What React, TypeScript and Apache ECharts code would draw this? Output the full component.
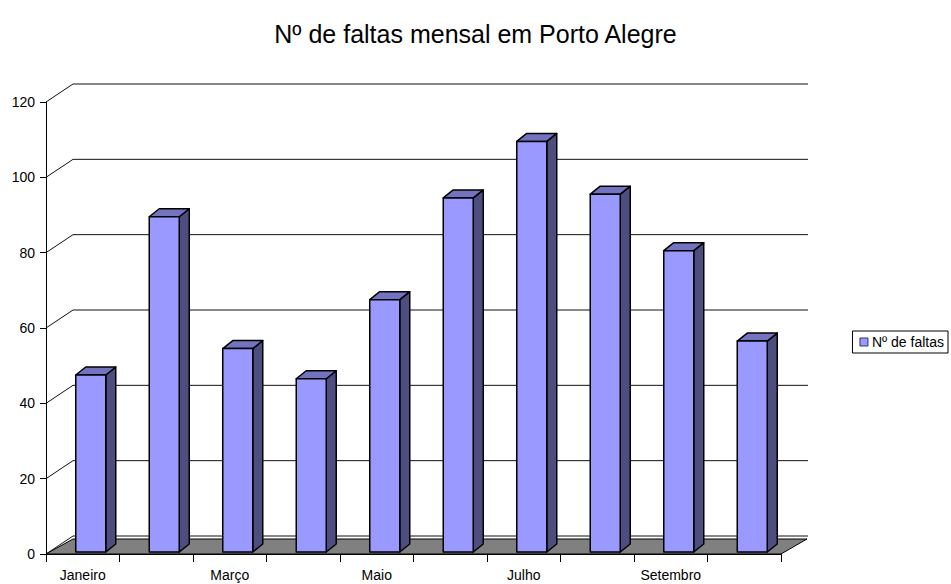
import React, { useEffect, useRef } from "react";
import * as echarts from "echarts";

const months = ["Janeiro", "Fevereiro", "Março", "Abril", "Maio", "Junho", "Julho", "Agosto", "Setembro", "Outubro"];
const faltas = [47, 89, 54, 46, 67, 94, 109, 95, 80, 56];
const yTicks = [0, 20, 40, 60, 80, 100, 120];
const seriesName = "Nº de faltas";
const titleText = "Nº de faltas mensal em Porto Alegre";

const FONT = "'Liberation Sans', Arial, sans-serif";
const WALL_DX = 27;
const WALL_DY = -18;
const FLOOR_DY = -15;
const BAR_SHIFT_X = 8;
const BAR_SHIFT_Y = -2;
const BAR_HALF = 15;
const BAR_DX = 10;
const BAR_DY = -8;

export default function App() {
  const ref = useRef<HTMLDivElement>(null);
  useEffect(() => {
    if (!ref.current) return;
    const chart = echarts.init(ref.current, null, { renderer: "svg" });
    const option: any = {
      animation: false,
      backgroundColor: "#ffffff",
      title: {
        text: titleText,
        left: "center",
        top: 16,
        textStyle: { fontFamily: FONT, fontSize: 25, fontWeight: "normal", color: "#000" },
      },
      legend: {
        right: 3,
        top: 331,
        orient: "vertical",
        data: [{ name: seriesName, icon: "rect" }],
        itemWidth: 8,
        itemHeight: 8,
        itemGap: 0,
        borderColor: "#000",
        borderWidth: 1,
        padding: [4, 4, 4, 7],
        textStyle: { fontFamily: FONT, fontSize: 14, color: "#000", padding: [0, 0, 0, -1] },
        itemStyle: { color: "#9999FF", borderColor: "#333366", borderWidth: 1 },
      },
      grid: { left: 46, right: 170, top: 102, bottom: 30 },
      xAxis: {
        type: "category",
        data: months,
        boundaryGap: true,
        axisLine: { show: true, lineStyle: { color: "#000", width: 1 } },
        axisTick: { show: true, length: 8, interval: 0, lineStyle: { color: "#000" } },
        axisLabel: { interval: 1, fontFamily: FONT, fontSize: 14, color: "#000", margin: 14 },
        splitLine: { show: false },
      },
      yAxis: {
        type: "value",
        min: 0,
        max: 120,
        interval: 20,
        axisLine: { show: true, lineStyle: { color: "#000", width: 1 } },
        axisTick: { show: true, length: 6, lineStyle: { color: "#000" } },
        axisLabel: { fontFamily: FONT, fontSize: 14, color: "#000", margin: 11 },
        splitLine: { show: false },
      },
      series: [
        {
          type: "custom",
          name: "walls",
          silent: true,
          data: yTicks,
          encode: { y: 0 },
          renderItem: (params: any, api: any) => {
            const v = yTicks[params.dataIndex];
            const cs = params.coordSys;
            const p = api.coord([0, v]);
            const y = p[1];
            const xL = cs.x;
            const xR = cs.x + cs.width;
            const children: any[] = [];
            children.push({
              type: "polyline",
              shape: { points: [[xL, y], [xL + WALL_DX, y + WALL_DY], [xR + WALL_DX, y + WALL_DY]] },
              style: { stroke: "#111", lineWidth: 1, fill: "none" },
            });
            if (v === 0) {
              children.push({
                type: "polygon",
                shape: {
                  points: [
                    [xL, y],
                    [xL + WALL_DX, y + FLOOR_DY],
                    [xR + WALL_DX - 1, y + FLOOR_DY],
                    [xR, y],
                  ],
                },
                style: { fill: "#808080", stroke: "#000", lineWidth: 1 },
              });
            }
            return { type: "group", children };
          },
          z: 1,
        },
        {
          type: "custom",
          name: seriesName,
          data: faltas.map((v, i) => [i, v]),
          encode: { x: 0, y: 1 },
          itemStyle: { color: "#9999FF" },
          renderItem: (params: any, api: any) => {
            const i = api.value(0);
            const v = api.value(1);
            const b = api.coord([i, 0]);
            const t = api.coord([i, v]);
            const cx = b[0] + BAR_SHIFT_X;
            const yb = b[1] + BAR_SHIFT_Y;
            const yt = t[1] + BAR_SHIFT_Y;
            const x0 = cx - BAR_HALF;
            const x1 = cx + BAR_HALF;
            const stroke = { stroke: "#000", lineWidth: 1.5, lineJoin: "round" };
            return {
              type: "group",
              children: [
                {
                  type: "polygon",
                  shape: { points: [[x1, yb], [x1 + BAR_DX, yb + BAR_DY], [x1 + BAR_DX, yt + BAR_DY], [x1, yt]] },
                  style: { fill: "#4D4D80", ...stroke },
                },
                {
                  type: "polygon",
                  shape: { points: [[x0, yt], [x0 + BAR_DX, yt + BAR_DY], [x1 + BAR_DX, yt + BAR_DY], [x1, yt]] },
                  style: { fill: "#7373BF", ...stroke },
                },
                {
                  type: "rect",
                  shape: { x: x0, y: yt, width: x1 - x0, height: yb - yt },
                  style: { fill: "#9999FF", ...stroke },
                },
              ],
            };
          },
          z: 3,
        },
      ],
    };
    chart.setOption(option);
    return () => chart.dispose();
  }, []);
  return (
    <div
      ref={ref}
      style={{ position: "fixed", left: 0, top: 0, width: 951, height: 584, background: "#fff" }}
    />
  );
}
